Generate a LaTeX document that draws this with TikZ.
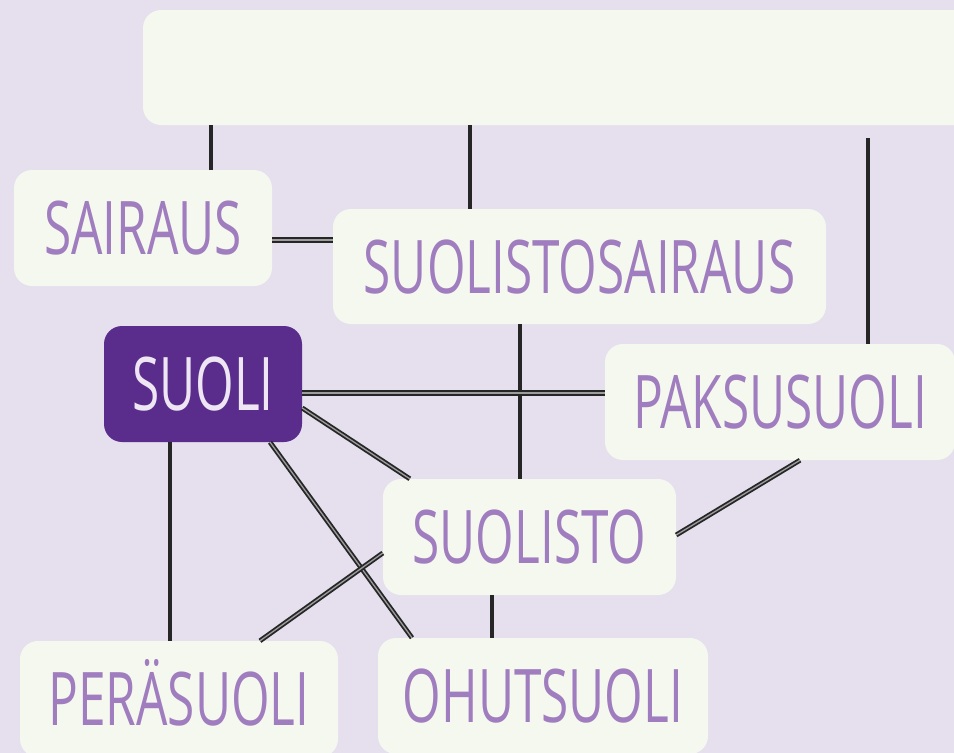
\documentclass[tikz,border=0pt]{standalone}
\usepackage{fontspec}
\newfontfamily\condfont[FakeStretch=0.67]{Open Sans}
\definecolor{bgc}{HTML}{E5DFEE}
\definecolor{boxc}{HTML}{F5F8EF}
\definecolor{wordc}{HTML}{A07DBE}
\definecolor{rootc}{HTML}{5A2D8C}
\definecolor{rootword}{HTML}{EFE6F4}
\definecolor{linkc}{HTML}{262626}
\tikzset{
    concept/.style={rounded corners=18pt, fill=boxc, text=wordc, inner sep=0pt,
        font=\condfont\fontsize{74}{74}\selectfont, text height=53pt, text depth=0pt,
        minimum height=116pt},
    root/.style={concept, fill=rootc, text=rootword},
    link/.style={draw=linkc, line width=3.2pt},
    twin/.style={draw=linkc, line width=1.8pt, double=linkc!45, double distance=1.3pt},
}
\begin{document}
\begin{tikzpicture}[x=1pt, y=-1pt]
    \useasboundingbox (0,0) rectangle (954,753);
    \fill[bgc] (0,0) rectangle (954,753);
    \clip (0,0) rectangle (954,753);

    %% boxes
    \node[concept, minimum width=857pt, minimum height=115pt] (top) at (571.5,67.5) {};
    \node[concept, minimum width=258pt] (sairaus) at (143,228) {SAIRAUS};
    \node[concept, minimum width=493pt, minimum height=115pt] (sairausb) at (579.5,266.5) {SUOLISTOSAIRAUS};
    \node[root, minimum width=198pt] (suoli) at (203,384) {SUOLI};
    \node[concept, minimum width=350pt] (paksu) at (780,402) {PAKSUSUOLI};
    \node[concept, minimum width=293pt] (suolisto) at (529.5,537) {SUOLISTO};
    \node[concept, minimum width=318pt] (pera) at (179,699) {PERÄSUOLI};
    \node[concept, minimum width=330pt] (ohut) at (543,696) {OHUTSUOLI};

    %% from the top box
    \draw[link] ([xshift=68pt]sairaus.north) -- ([xshift=68pt]sairaus.north |- top.south);
    \draw[link] ([xshift=-109.5pt]sairausb.north) -- ([xshift=-109.5pt]sairausb.north |- top.south);
    \coordinate (topend) at (868,138);
    \draw[link] (topend) -- (topend |- paksu.north);

    %% second row
    \draw[twin, line width=2.2pt] (sairaus.east |- 0,240) -- (sairausb.west |- 0,240);
    \draw[link] (sairausb.south -| 520,0) -- (suolisto.north -| 520,0);

    %% around suoli
    \draw[twin, line width=2.2pt] (suoli.east |- 0,393) -- (paksu.west |- 0,393);
    \draw[twin] (suoli.east |- 0,408) -- ([xshift=27pt]suolisto.north west);
    \draw[twin] ([xshift=67pt]suoli.south) -- ([xshift=-131pt]ohut.north);
    \draw[link] ([xshift=-33pt]suoli.south) -- ([xshift=-33pt]suoli.south |- pera.north);

    %% around suolisto
    \draw[twin] (suolisto.west |- 0,553) -- ([xshift=81pt]pera.north);
    \draw[link] (suolisto.south -| 492,0) -- (ohut.north -| 492,0);
    \draw[twin] (suolisto.east |- 0,535) -- (paksu.south -| 800,0);
\end{tikzpicture}
\end{document}
